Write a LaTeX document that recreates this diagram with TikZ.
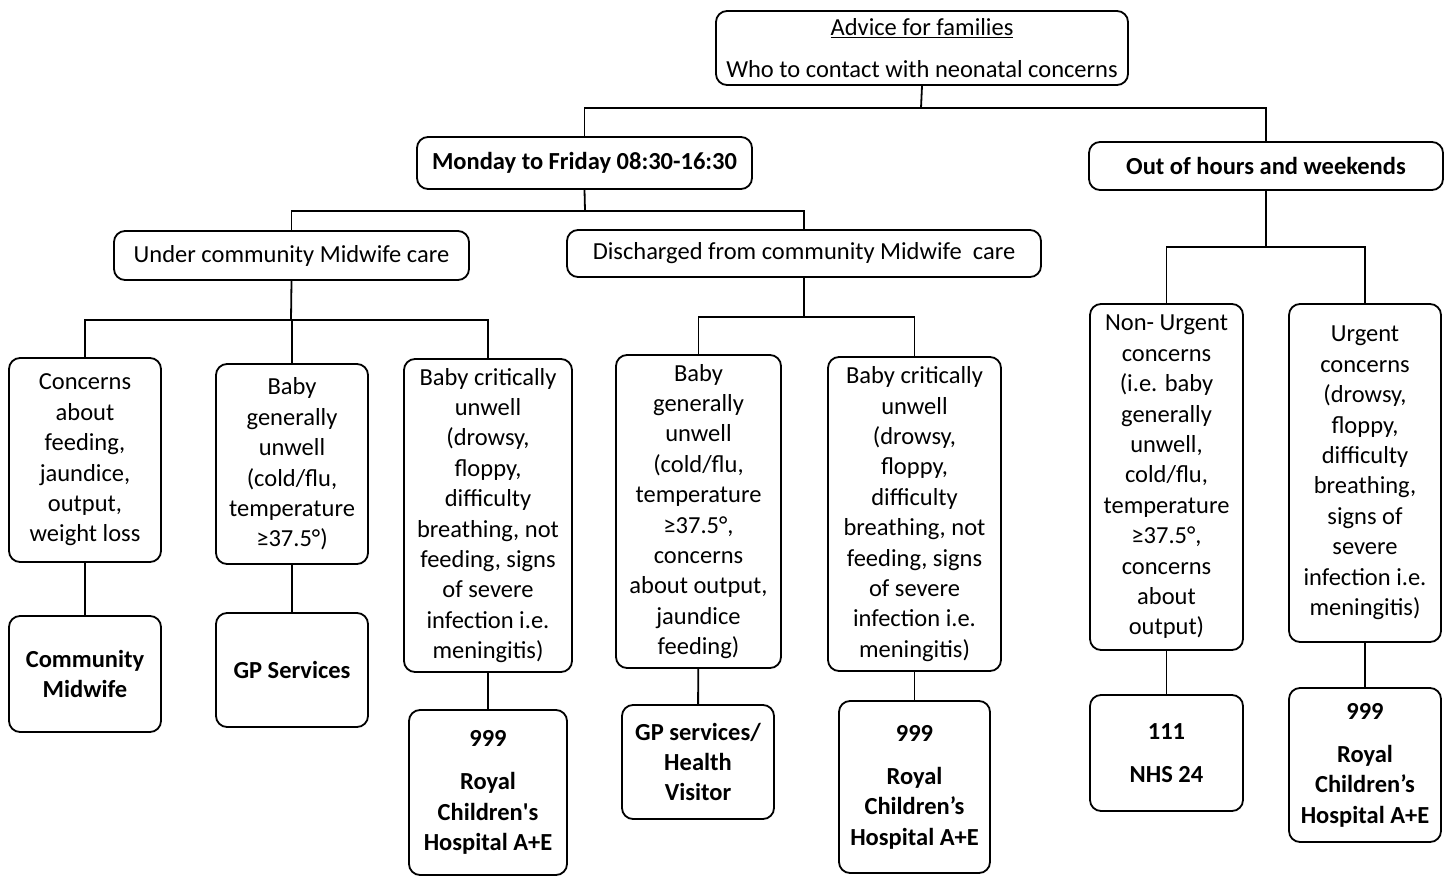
\documentclass[tikz,border=0pt]{standalone}
\usepackage{fontspec}
\setmainfont{Carlito}
\begin{document}
\begin{tikzpicture}[x=1pt,y=-1pt,
  box/.style={draw,line width=1.8pt,rounded corners=11pt,inner sep=0pt,align=center,
    font=\fontsize{24.5}{30.4}\selectfont},
  bbox/.style={box,font=\fontsize{24.5}{30.4}\selectfont\bfseries},
  conn/.style={line width=1.8pt}]
\useasboundingbox (0,0) rectangle (1450,877);
% level 0
\node[box,minimum width=412pt,minimum height=74pt] (top) at (922,48) {\underline{Advice for families}\\[11pt]Who to contact with neonatal concerns};
% level 1
\node[bbox,minimum width=335pt,minimum height=52pt] (mon) at (584.5,163) {Monday to Friday 08:30-16:30};
\node[bbox,minimum width=354pt,minimum height=48pt] (ooh) at (1266,166) {Out of hours and weekends};
% level 2
\node[box,minimum width=355pt,minimum height=49pt] (under) at (291.5,255.5) {Under community Midwife care};
\node[box,minimum width=474pt,minimum height=47pt] (disc) at (804,253.5) {Discharged from community Midwife\ \ care};
% level 3
\node[box,minimum width=152pt,minimum height=204pt] (conc) at (85,460) {Concerns\\about\\feeding,\\jaundice,\\output,\\weight loss};
\node[box,minimum width=152pt,minimum height=200pt] (babya) at (292,464) {Baby\\generally\\unwell\\(cold/flu,\\temperature\\≥37.5°)};
\node[box,minimum width=168pt,minimum height=313pt] (crita) at (488,515.5) {Baby critically\\unwell\\(drowsy,\\floppy,\\difficulty\\breathing, not\\feeding, signs\\of severe\\infection i.e.\\meningitis)};
\node[box,minimum width=165pt,minimum height=313pt] (babyb) at (698.5,511.5) {Baby\\generally\\unwell\\(cold/flu,\\temperature\\≥37.5°,\\concerns\\about output,\\jaundice\\feeding)};
\node[box,minimum width=173pt,minimum height=314pt] (critb) at (914.5,514) {Baby critically\\unwell\\(drowsy,\\floppy,\\difficulty\\breathing, not\\feeding, signs\\of severe\\infection i.e.\\meningitis)};
\node[box,minimum width=153pt,minimum height=346pt] (nonurg) at (1166.5,477) {Non- Urgent\\concerns\\(i.e. baby\\generally\\unwell,\\cold/flu,\\temperature\\≥37.5°,\\concerns\\about\\output)};
\node[box,minimum width=152pt,minimum height=338pt] (urg) at (1365,473) {Urgent\\concerns\\(drowsy,\\floppy,\\difficulty\\breathing,\\signs of\\severe\\infection i.e.\\meningitis)};
% level 4
\node[bbox,minimum width=152pt,minimum height=116pt] (cm) at (85,674) {Community\\Midwife};
\node[bbox,minimum width=152pt,minimum height=114pt] (gp) at (292,670) {GP Services};
\node[bbox,minimum width=158pt,minimum height=165pt] (ra) at (488,792.5) {999\\[13pt]Royal\\Children\textquotesingle s\\Hospital A+E};
\node[bbox,minimum width=152pt,minimum height=114pt] (gphv) at (698,762) {GP services/\\Health\\Visitor};
\node[bbox,minimum width=151pt,minimum height=172pt] (rb) at (914.5,787) {999\\[13pt]Royal\\Children’s\\Hospital A+E};
\node[bbox,minimum width=153pt,minimum height=116pt] (nhs) at (1166.5,753) {111\\[12pt]NHS 24};
\node[bbox,minimum width=152pt,minimum height=154pt] (rc) at (1365,765) {999\\[13pt]Royal\\Children’s\\Hospital A+E};
% connectors
\coordinate (b0) at (921,108);
\draw[conn] (top.south) -- (b0);
\draw[conn] (mon.north) |- (b0) -| (ooh.north);
\coordinate (b1) at (585,211);
\draw[conn] (mon.south) -- (b1);
\draw[conn] (under.north) |- (b1) -| (disc.north);
\coordinate (b2) at (291,320);
\draw[conn] (under.south) -- (b2);
\draw[conn] (conc.north) |- (b2) -| (crita.north);
\draw[conn] (babya.north) -- (babya.north |- b2);
\coordinate (b3) at (804,317);
\draw[conn] (disc.south) -- (b3);
\draw[conn] (babyb.north) |- (b3) -| (critb.north);
\coordinate (b4) at (1266,247);
\draw[conn] (ooh.south) -- (b4);
\draw[conn] (nonurg.north) |- (b4) -| (urg.north);
\draw[conn] (conc) -- (cm);
\draw[conn] (babya) -- (gp);
\draw[conn] (crita) -- (ra);
\draw[conn] (babyb) -- (gphv);
\draw[conn] (critb) -- (rb);
\draw[conn] (nonurg) -- (nhs);
\draw[conn] (urg) -- (rc);
\end{tikzpicture}
\end{document}
